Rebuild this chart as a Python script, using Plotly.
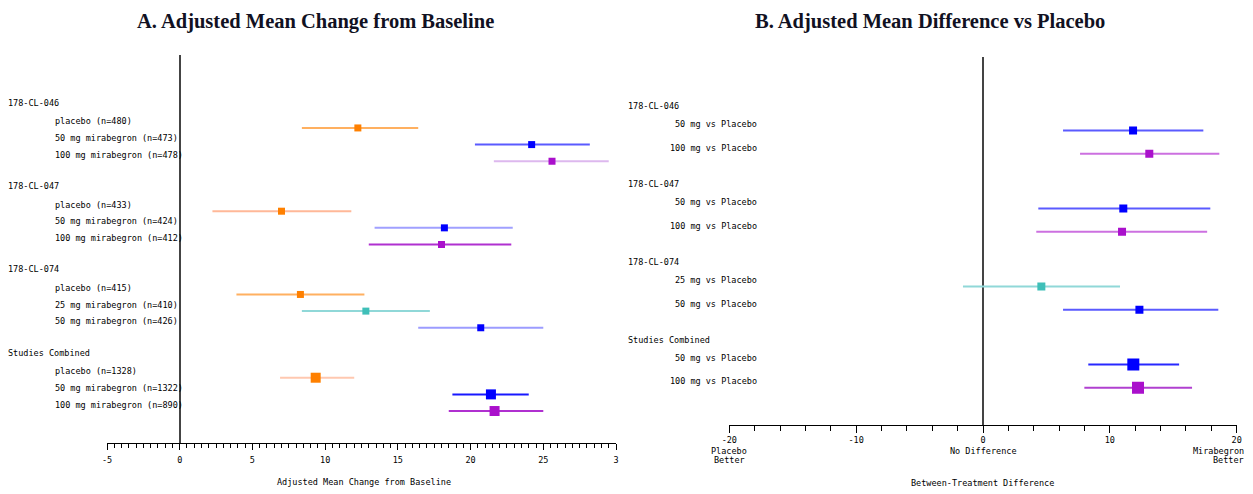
import plotly.graph_objects as go

W, H = 1253, 494

# ---------------- data ----------------
groups = ["178-CL-046", "178-CL-047", "178-CL-074", "Studies Combined"]

left_labels = [
    ["placebo (n=480)", "50 mg mirabegron (n=473)", "100 mg mirabegron (n=478)"],
    ["placebo (n=433)", "50 mg mirabegron (n=424)", "100 mg mirabegron (n=412)"],
    ["placebo (n=415)", "25 mg mirabegron (n=410)", "50 mg mirabegron (n=426)"],
    ["placebo (n=1328)", "50 mg mirabegron (n=1322)", "100 mg mirabegron (n=890)"],
]
left_dose = ["placebo", "50", "100", "placebo", "50", "100",
             "placebo", "25", "50", "placebo", "50", "100"]
left_est = [12.25, 24.2, 25.6, 7.0, 18.2, 18.0, 8.3, 12.8, 20.7, 9.35, 21.4, 21.65]
left_lo = [8.4, 20.3, 21.6, 2.25, 13.4, 13.0, 3.9, 8.4, 16.4, 6.9, 18.75, 18.5]
left_hi = [16.4, 28.2, 29.5, 11.8, 22.9, 22.8, 12.7, 17.2, 25.0, 12.0, 24.0, 25.0]

right_labels = [
    ["50 mg vs Placebo", "100 mg vs Placebo"],
    ["50 mg vs Placebo", "100 mg vs Placebo"],
    ["25 mg vs Placebo", "50 mg vs Placebo"],
    ["50 mg vs Placebo", "100 mg vs Placebo"],
]
right_dose = ["50", "100", "50", "100", "25", "50", "50", "100"]
right_est = [11.83, 13.11, 11.06, 10.96, 4.6, 12.33, 11.85, 12.22]
right_lo = [6.31, 7.65, 4.36, 4.2, -1.58, 6.31, 8.3, 7.99]
right_hi = [17.37, 18.63, 17.92, 17.67, 10.8, 18.55, 15.46, 16.48]

left_ticks = [-5, 0, 5, 10, 15, 20, 25, 30]
left_ticktext = ["-5", "0", "5", "10", "15", "20", "25", "3"]
right_ticks = [-20, -10, 0, 10, 20]
right_ticktext = ["-20", "-10", "0", "10", "20"]
right_sub = [(-20, ["Placebo", "Better"], "center"),
             (0, ["No Difference"], "center"),
             (20, ["Mirabegron", "Better"], "right")]

# ---------------- styles ----------------
marker_col = {"placebo": "#FF8000", "25": "#3FBFB8", "50": "#0000FF", "100": "#AA10CC"}
left_line_col = ["#FFB060", "#5A5AFF", "#DDB8EE",
                 "#FFB898", "#A0A0FF", "#B030D0",
                 "#FFB060", "#90D8D8", "#9C9CFF",
                 "#FFC8B0", "#1818FF", "#B030D0"]
right_line_col = ["#5A5AFF", "#CC70E0", "#5A5AFF", "#CC70E0",
                  "#90D8D8", "#5A5AFF", "#2828FF", "#B040D0"]

MONO = "DejaVu Sans Mono"
SERIF = "Liberation Serif"
FS = 8.5


def px_x(p):
    return p / W


def px_y(p):
    return 1 - p / H


fig = go.Figure()

# left panel traces
left_pos = []
k = 0
for g, rows in enumerate(left_labels):
    for r, _ in enumerate(rows):
        s = g * 5 + 1 + r
        left_pos.append(s)
        combined = g == len(left_labels) - 1
        fig.add_trace(go.Scatter(
            x=[left_est[k]], y=[s], mode="markers",
            marker=dict(symbol="square", size=10 if combined else 7,
                        color=marker_col[left_dose[k]]),
            error_x=dict(type="data", symmetric=False,
                         array=[left_hi[k] - left_est[k]],
                         arrayminus=[left_est[k] - left_lo[k]],
                         color=left_line_col[k], thickness=2, width=0),
            xaxis="x", yaxis="y", showlegend=False, hoverinfo="skip"))
        k += 1

# right panel traces
right_pos = []
k = 0
for g, rows in enumerate(right_labels):
    for r, _ in enumerate(rows):
        s = g * 3.35 + r
        right_pos.append(s)
        combined = g == len(right_labels) - 1
        fig.add_trace(go.Scatter(
            x=[right_est[k]], y=[s], mode="markers",
            marker=dict(symbol="square", size=12 if combined else 8,
                        color=marker_col[right_dose[k]]),
            error_x=dict(type="data", symmetric=False,
                         array=[right_hi[k] - right_est[k]],
                         arrayminus=[right_est[k] - right_lo[k]],
                         color=right_line_col[k], thickness=2, width=0),
            xaxis="x2", yaxis="y2", showlegend=False, hoverinfo="skip"))
        k += 1

font = dict(family=MONO, size=FS, color="black")
ann = []
# left labels
k = 0
for g, rows in enumerate(left_labels):
    ann.append(dict(text=groups[g], x=px_x(6), xref="paper", xanchor="left",
                    y=left_pos[k], yref="y", yanchor="middle", yshift=25,
                    showarrow=False, font=font))
    for r, lab in enumerate(rows):
        ann.append(dict(text=lab, x=px_x(53), xref="paper", xanchor="left",
                        y=left_pos[k], yref="y", yanchor="middle", yshift=6.5,
                        showarrow=False, font=font))
        k += 1
# right labels
k = 0
for g, rows in enumerate(right_labels):
    ann.append(dict(text=groups[g], x=px_x(626), xref="paper", xanchor="left",
                    y=right_pos[k], yref="y2", yanchor="middle", yshift=24.3,
                    showarrow=False, font=font))
    for r, lab in enumerate(rows):
        ann.append(dict(text=lab, x=px_x(759), xref="paper", xanchor="right",
                        y=right_pos[k], yref="y2", yanchor="middle", yshift=6.3,
                        showarrow=False, font=font))
        k += 1

# titles
ann.append(dict(text="<b>A. Adjusted Mean Change from Baseline</b>", x=px_x(315), y=px_y(21),
                xref="paper", yref="paper", xanchor="center", yanchor="middle", showarrow=False,
                font=dict(family=SERIF, size=20.5, color="#111122")))
ann.append(dict(text="<b>B. Adjusted Mean Difference vs Placebo</b>", x=px_x(930), y=px_y(21),
                xref="paper", yref="paper", xanchor="center", yanchor="middle", showarrow=False,
                font=dict(family=SERIF, size=20.5, color="#111122")))
# axis titles
ann.append(dict(text="Adjusted Mean Change from Baseline", x=px_x(364), y=px_y(482),
                xref="paper", yref="paper", xanchor="center", yanchor="middle", showarrow=False,
                font=font))
ann.append(dict(text="Between-Treatment Difference", x=px_x(982), y=px_y(483),
                xref="paper", yref="paper", xanchor="center", yanchor="middle", showarrow=False,
                font=font))
# right axis sub-labels (one line each for tight spacing)
for xv, lines, anc in right_sub:
    for i, line in enumerate(lines):
        ann.append(dict(text=line, x=xv, xref="x2", xshift=9 if anc == "right" else 0,
                        y=px_y(450.5 + 9 * i), yref="paper",
                        xanchor=anc, yanchor="middle", showarrow=False, font=font))

fig.update_layout(
    width=W, height=H,
    margin=dict(l=0, r=0, t=0, b=0, pad=0, autoexpand=False),
    paper_bgcolor="white", plot_bgcolor="white",
    showlegend=False,
    annotations=ann,
    xaxis=dict(domain=[px_x(107), px_x(616)], range=[-5, 30], anchor="y",
               showgrid=False, zeroline=True, zerolinecolor="#444444", zerolinewidth=2,
               showline=True, linecolor="black", linewidth=1,
               ticks="outside", ticklen=6, tickcolor="black", tickwidth=1,
               tickvals=left_ticks, ticktext=left_ticktext, ticklabelstandoff=3,
               minor=dict(dtick=0.5, tick0=0, ticks="outside", ticklen=4, tickcolor="black"),
               tickfont=font, automargin=False),
    yaxis=dict(domain=[px_y(443), px_y(55)], range=[19.92, -3.38], anchor="x",
               showgrid=False, zeroline=False, showline=False, showticklabels=False, ticks="",
               automargin=False),
    xaxis2=dict(domain=[px_x(729.3), px_x(1236.7)], range=[-20, 20], anchor="y2",
                showgrid=False, zeroline=True, zerolinecolor="#444444", zerolinewidth=2,
                showline=True, linecolor="black", linewidth=1,
                ticks="outside", ticklen=7, tickcolor="black", tickwidth=1,
                tickvals=right_ticks, ticktext=right_ticktext, ticklabelstandoff=0,
                minor=dict(dtick=2, tick0=0, ticks="outside", ticklen=5, tickcolor="black"),
                tickfont=font, automargin=False),
    yaxis2=dict(domain=[px_y(425), px_y(57)], range=[12.65, -3.162], anchor="x2",
                showgrid=False, zeroline=False, showline=False, showticklabels=False, ticks="",
                automargin=False),
)

fig.write_html("out.html")
